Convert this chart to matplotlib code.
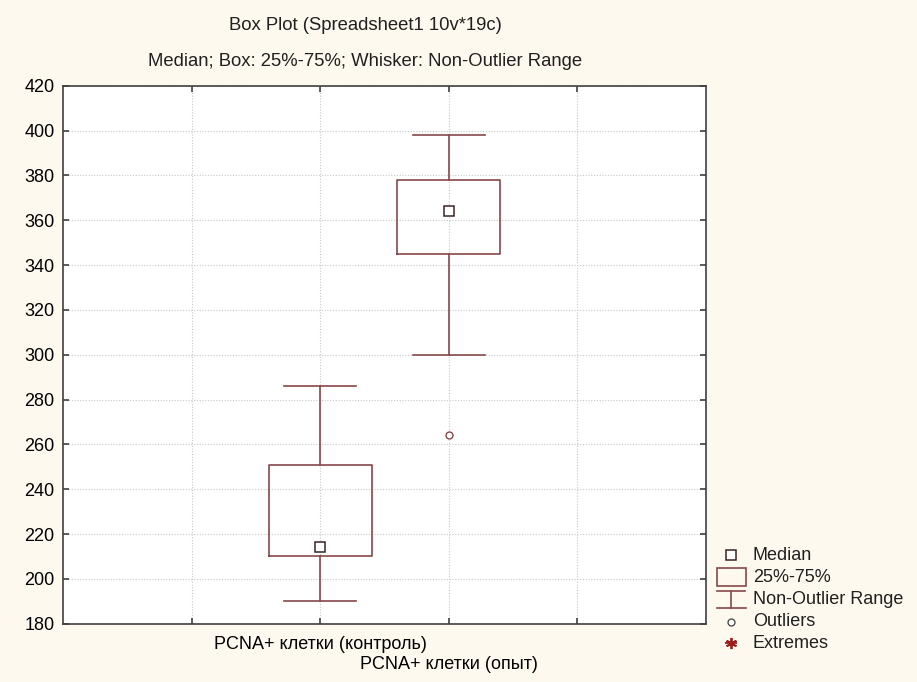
import matplotlib
matplotlib.use("Agg")
import matplotlib.pyplot as plt
from matplotlib.patches import Rectangle

plt.rcParams['font.family'] = ['Liberation Sans', 'DejaVu Sans']

# data
groups    = ["PCNA+ клетки (контроль)", "PCNA+ клетки (опыт)"]
medians   = [214, 364]
q1        = [210, 345]
q3        = [251, 378]
whis_lo   = [190, 300]
whis_hi   = [286, 398]
outliers  = [[], [264]]

positions = [2, 3]
box_col   = "#86484a"
med_col   = "#3a2424"
bg        = "#fdf9ee"

fig = plt.figure(figsize=(9.17, 6.82), dpi=100, facecolor=bg)
ax = fig.add_axes([63/917, 1 - 623.7/682, 643/917, 538/682])
ax.set_facecolor("white")

stats = []
for i in range(len(groups)):
    stats.append(dict(med=medians[i], q1=q1[i], q3=q3[i],
                      whislo=whis_lo[i], whishi=whis_hi[i],
                      fliers=outliers[i], label=groups[i]))

ax.bxp(stats, positions=positions, widths=0.8, capwidths=0.56,
       showfliers=True, patch_artist=False,
       boxprops=dict(color=box_col, linewidth=1.2),
       whiskerprops=dict(color=box_col, linewidth=1.2),
       capprops=dict(color=box_col, linewidth=1.2),
       medianprops=dict(linestyle="none"),
       flierprops=dict(marker="o", markersize=5, markerfacecolor="white",
                       markeredgecolor=box_col, markeredgewidth=1.0))
ax.plot(positions, medians, "s", markersize=6.5, markerfacecolor="white",
        markeredgecolor=med_col, markeredgewidth=1.1, linestyle="none")

ax.set_xlim(0, 5)
ax.set_ylim(180, 420)
ax.set_yticks(range(180, 421, 20))
ax.set_xticks([1, 2, 3, 4])
ax.set_xticklabels(["", groups[0], groups[1], ""], fontsize=13)
ax.tick_params(axis="y", labelsize=13)
ax.tick_params(direction="in", length=4, width=1.2, color="#404040",
               top=True, right=True, pad=6)
# staggered category labels
xt = ax.xaxis.get_major_ticks()
xt[1].set_pad(9)
xt[2].set_pad(23.5)
ax.grid(True, color="#c8c8c8", linestyle=(0, (1, 1.5)), linewidth=0.8)
ax.set_axisbelow(True)
for s in ax.spines.values():
    s.set_color("#404040")
    s.set_linewidth(1.2)

fig.text(365/917, 1 - 26/682, "Box Plot (Spreadsheet1 10v*19c)",
         ha="center", va="center", fontsize=13.3, color="#202020")
fig.text(365/917, 1 - 61/682, "Median; Box: 25%-75%; Whisker: Non-Outlier Range",
         ha="center", va="center", fontsize=13.3, color="#202020")

# legend drawn in pixel-like coordinates
lax = fig.add_axes([705/917, 1 - 660/682, 212/917, 120/682])
lax.set_xlim(705, 917)
lax.set_ylim(660, 540)
lax.axis("off")
lax.plot([731], [555], "s", markersize=6.5, markerfacecolor="white",
         markeredgecolor=med_col, markeredgewidth=1.1)
lax.add_patch(Rectangle((717, 568), 29, 18, fill=False, edgecolor=box_col,
                        linewidth=1.2))
lax.plot([717, 745], [591, 591], color=box_col, linewidth=1.2)
lax.plot([731, 731], [591, 608], color=box_col, linewidth=1.2)
lax.plot([717, 746], [608, 608], color=box_col, linewidth=1.2)
lax.plot([731], [622], "o", markersize=5, markerfacecolor="white",
         markeredgecolor="#505050", markeredgewidth=1.0)
lax.plot([731], [643], marker=(6, 2, 0), markersize=8, color="#9b1c1c",
         markeredgewidth=1.3)
lax.plot([731], [643], "_", markersize=8, color="#9b1c1c", markeredgewidth=1.3)
labels = ["Median", "25%-75%", "Non-Outlier Range", "Outliers", "Extremes"]
rows = [555, 578, 600, 622, 643]
for lab, y in zip(labels, rows):
    lax.text(753, y, lab, ha="left", va="center", fontsize=13, color="#202020")

fig.savefig("out.png", dpi=100, facecolor=bg)
